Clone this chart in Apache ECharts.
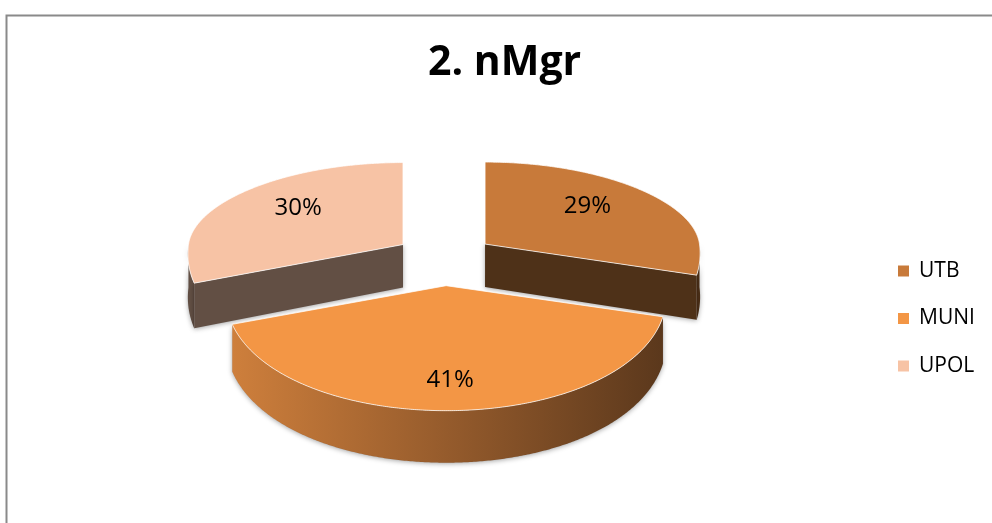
<!DOCTYPE html>
<html><head><meta charset="utf-8">
<script src="https://cdn.jsdelivr.net/npm/echarts@6/dist/echarts.min.js"></script>
<style>html,body{margin:0;padding:0;background:#fff}#c{width:992px;height:523px}</style>
</head><body><div id="c"></div>
<script>
// ---- data ----
const titleText = '2. nMgr';
const categories = ['UTB', 'MUNI', 'UPOL'];
const values = [29, 41, 30];

// ---- styles ----
const topColors = ['#C87A3A', '#F39645', '#F7C3A5'];
const sideColors = ['#4E3118', null, '#624F44'];
const muniWall = ['#CE7F3C', '#955B2C', '#5B381C'];
const G = { cx: 444.5, cy: 256, rx: 216, ryFar: 82, ryNear: 125, explode: 51.3,
            persp: 0.0006, depth0: 43, depthK: 9 / 166, depthY0: 244, startDeg: -90 };
const FONT = '"Open Sans", "Noto Sans", sans-serif';

function ryFor(s) { return s < 0 ? G.ryFar : G.ryNear; }
function pt(ax, ay, a) {
  const c = Math.cos(a), s = Math.sin(a);
  const y = ay + ryFor(s) * s;
  const k = 1 + (y - G.cy) * G.persp;
  return [ax + G.rx * c * k, y];
}
function depth(y) { return G.depth0 + Math.max(0, y - G.depthY0) * G.depthK; }
function arc(ax, ay, a0, a1) {
  const pts = [];
  const n = Math.max(2, Math.ceil(Math.abs(a1 - a0) / (Math.PI / 360)));
  for (let j = 0; j <= n; j++) pts.push(pt(ax, ay, a0 + (a1 - a0) * j / n));
  return pts;
}
function down(p) { return [p[0], p[1] + depth(p[1])]; }

const total = values.reduce((a, b) => a + b, 0);

function renderItem(params, api) {
  const i = params.seriesIndex;
  const v = api.value(0);
  let before = 0;
  for (let j = 0; j < i; j++) before += values[j];
  const a0 = (G.startDeg + before / total * 360) * Math.PI / 180;
  const a1 = a0 + v / total * 2 * Math.PI;
  const m = (a0 + a1) / 2;
  const sm = Math.sin(m);
  const ax = G.cx + G.explode * Math.cos(m);
  const ay = G.cy + G.explode * (ryFor(sm) / G.rx) * sm;
  const apex = [ax, ay];
  const children = [];
  const shadow = { shadowBlur: 5, shadowColor: 'rgba(0,0,0,0.35)', shadowOffsetY: 1 };

  // outer wall (visible where sin > 0)
  const w0 = Math.max(a0, 0), w1 = Math.min(a1, Math.PI);
  if (w1 > w0) {
    const top = arc(ax, ay, w0, w1);
    const bottom = top.slice().reverse().map(down);
    const fill = sideColors[i] || new echarts.graphic.LinearGradient(0, 0, 1, 0, [
      { offset: 0, color: muniWall[0] }, { offset: 0.5, color: muniWall[1] }, { offset: 1, color: muniWall[2] }]);
    children.push({ type: 'polygon', shape: { points: top.concat(bottom) },
      style: Object.assign({ fill: fill, stroke: 'rgba(0,0,0,0.08)', lineWidth: 0.5 }, shadow) });
  }
  // cut faces
  [[a0, a0 - Math.PI / 2], [a1, a1 + Math.PI / 2]].forEach(([a, n]) => {
    if (Math.sin(n) > 0.01) {
      const p = pt(ax, ay, a);
      children.push({ type: 'polygon', shape: { points: [apex, p, down(p), down(apex)] },
        style: Object.assign({ fill: sideColors[i] || muniWall[2], stroke: 'rgba(0,0,0,0.05)', lineWidth: 0.5 }, shadow) });
    }
  });
  // top face
  const face = [apex].concat(arc(ax, ay, a0, a1));
  children.push({ type: 'polygon', shape: { points: face },
    style: { fill: topColors[i], stroke: 'rgba(255,255,255,0.75)', lineWidth: 1 } });
  // label
  const lx = ax + 0.6 * G.rx * Math.cos(m);
  const ly = ay + 0.76 * ryFor(sm) * sm;
  children.push({ type: 'text', x: lx, y: ly,
    style: { text: Math.round(v / total * 100) + '%', fill: '#000', font: '24px ' + FONT,
             align: 'center', verticalAlign: 'middle' } });
  return { type: 'group', children: children };
}

const series = categories.map((name, i) => ({
  type: 'custom', name: name, coordinateSystem: 'none',
  renderItem: renderItem, data: [[values[i]]],
  itemStyle: { color: topColors[i] }, silent: true, z: i === 1 ? 3 : 2
}));

const chart = echarts.init(document.getElementById('c'), null, { renderer: 'canvas' });
chart.setOption({
  animation: false,
  backgroundColor: '#fff',
  title: { text: titleText, left: 428, top: 43, padding: 0,
    textStyle: { fontFamily: FONT, fontWeight: 'bold', fontSize: 41, color: '#000' } },
  legend: { data: categories, orient: 'vertical', left: 893, top: 254, icon: 'rect',
    itemWidth: 11, itemHeight: 11, itemGap: 23.5,
    textStyle: { fontFamily: FONT, fontSize: 21, color: '#000', lineHeight: 24, padding: [0, 0, 0, 5] } },
  graphic: [{ type: 'rect', left: 4, top: 13, shape: { width: 1200, height: 700 },
    style: { fill: 'none', stroke: '#8a8a8a', lineWidth: 2 }, silent: true }],
  series: series
});
</script></body></html>
